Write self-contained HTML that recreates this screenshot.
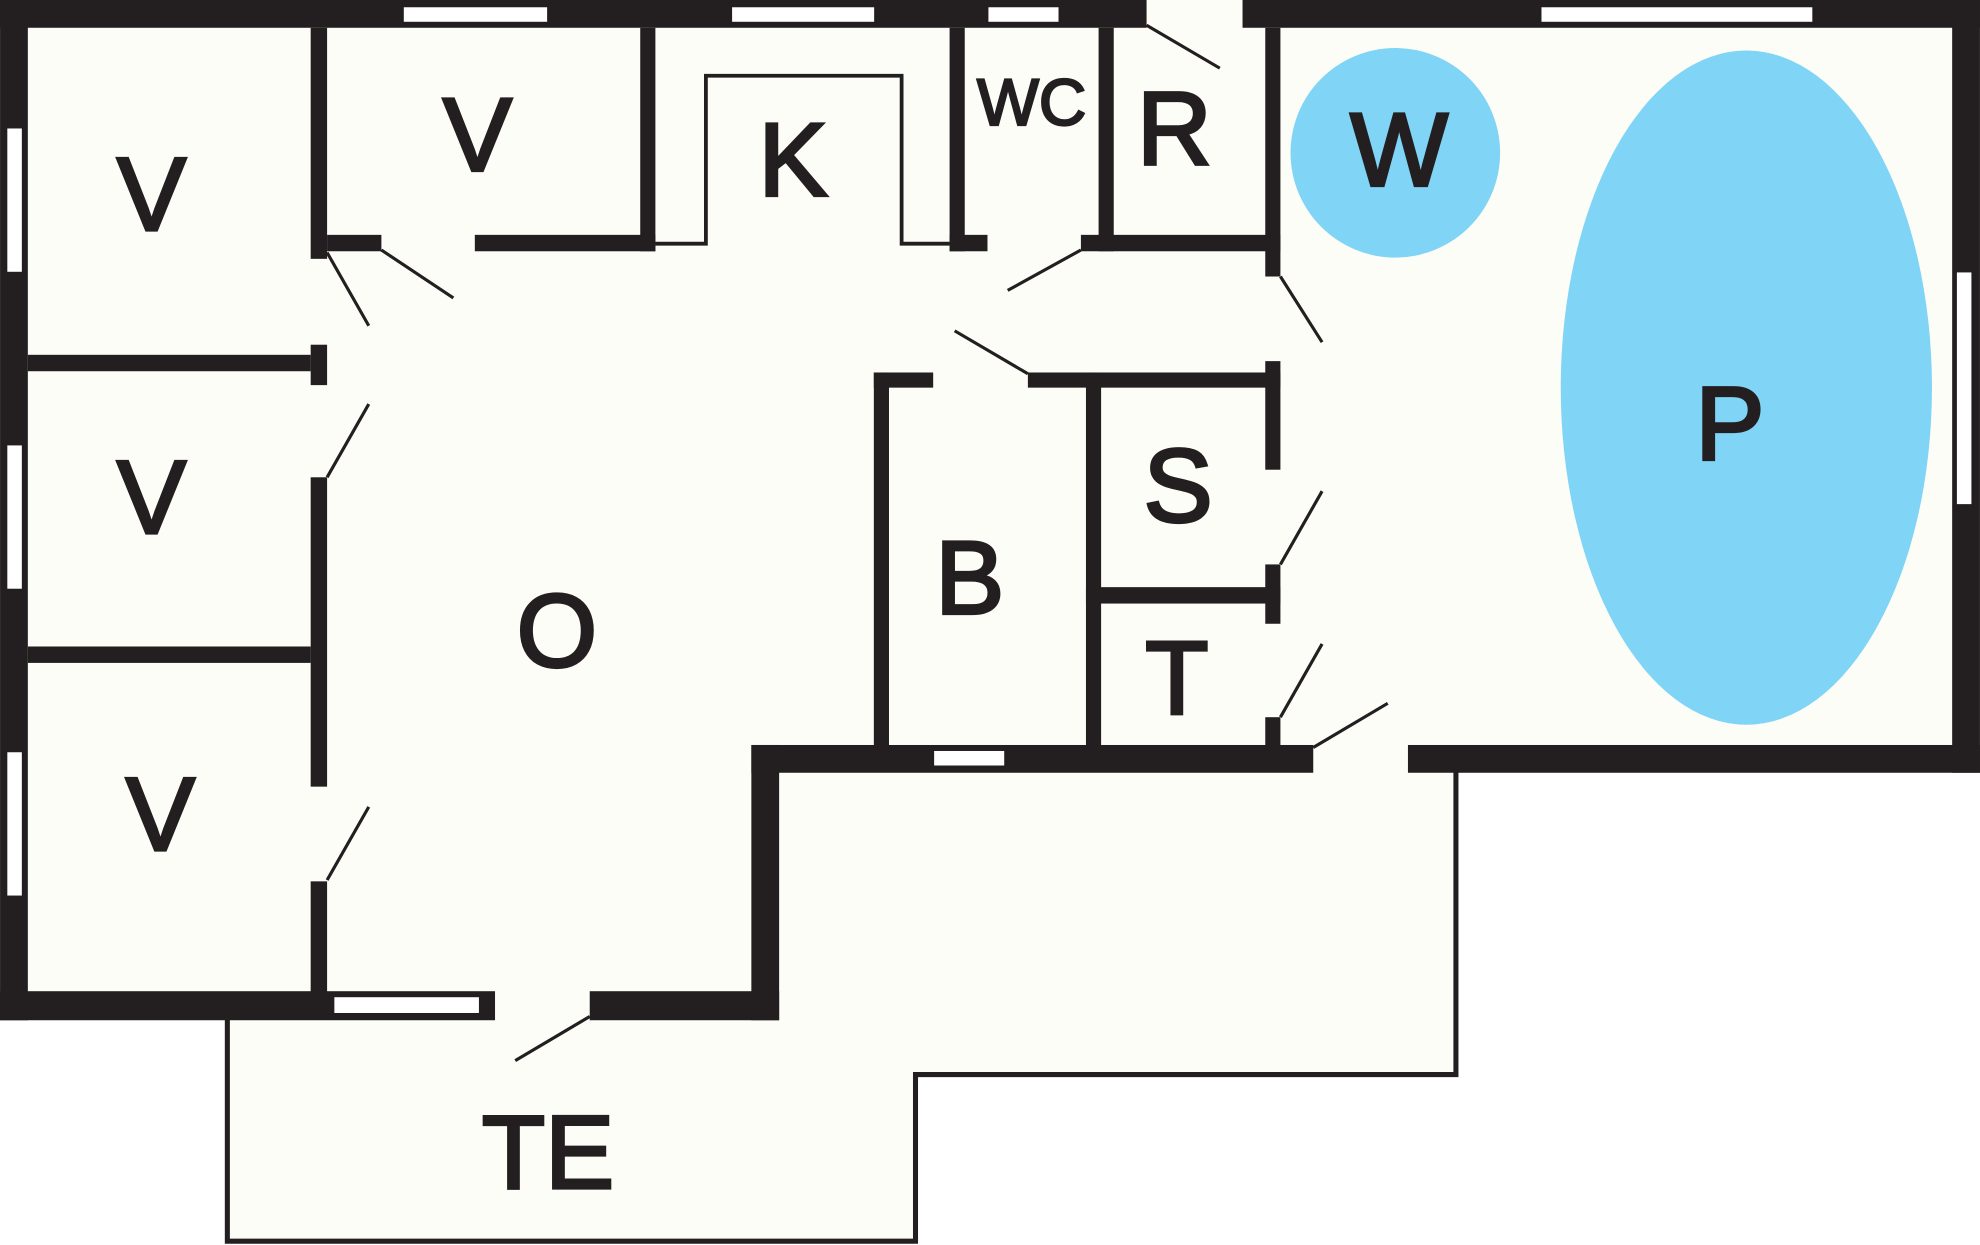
<!DOCTYPE html>
<html><head><meta charset="utf-8"><style>
html,body{margin:0;padding:0;background:#fff}
svg{display:block}
text{font-family:"Liberation Sans",Arial,sans-serif;fill:#231f20;stroke:#231f20;stroke-width:2.5;text-anchor:middle}
</style></head><body>
<svg width="1980" height="1245" viewBox="0 0 1568 986" xmlns="http://www.w3.org/2000/svg">
<g fill="#fdfdf8">
<polygon points="0,0 1568,0 1568,612 1153,612 1153,851 725,851 725,983 180,983 180,808 0,808"/>
</g>
<circle cx="1105" cy="121" r="83" fill="#80d4f6"/>
<ellipse cx="1383" cy="307" rx="147" ry="267" fill="#80d4f6"/>
<polyline points="180,806 180,983 725,983 725,851 1153,851 1153,610" fill="none" stroke="#231f20" stroke-width="4"/>
<polyline points="519,193 559,193 559,60 714,60 714,193 752,193" fill="none" stroke="#231f20" stroke-width="3"/>
<g fill="#231f20">
<rect x="0" y="0" width="908" height="22"/>
<rect x="984" y="0" width="584" height="22"/>
<rect x="0" y="0" width="22" height="808"/>
<rect x="1546" y="0" width="22" height="612"/>
<rect x="0" y="785" width="392" height="23"/>
<rect x="467" y="785" width="150" height="23"/>
<rect x="595" y="590" width="22" height="218"/>
<rect x="595" y="590" width="445" height="22"/>
<rect x="1115" y="590" width="453" height="22"/>
<rect x="246" y="22" width="13" height="183"/>
<rect x="246" y="273" width="13" height="32"/>
<rect x="246" y="378" width="13" height="245"/>
<rect x="246" y="698" width="13" height="100"/>
<rect x="22" y="281" width="224" height="13"/>
<rect x="22" y="512" width="224" height="13"/>
<rect x="259" y="186" width="43" height="13"/>
<rect x="376" y="186" width="143" height="13"/>
<rect x="507" y="22" width="12" height="177"/>
<rect x="752" y="22" width="12" height="177"/>
<rect x="752" y="186" width="30" height="13"/>
<rect x="856" y="186" width="158" height="13"/>
<rect x="870" y="22" width="12" height="177"/>
<rect x="1002" y="22" width="12" height="197"/>
<rect x="1002" y="286" width="12" height="86"/>
<rect x="1002" y="447" width="12" height="47"/>
<rect x="1002" y="568" width="12" height="30"/>
<rect x="692" y="295" width="47" height="12"/>
<rect x="814" y="295" width="200" height="12"/>
<rect x="692" y="295" width="12" height="305"/>
<rect x="860" y="295" width="12" height="305"/>
<rect x="860" y="465" width="154" height="13"/>
</g>
<g fill="#fff" stroke="#231f20" stroke-width="1.5">
<rect x="319" y="5" width="115" height="13"/>
<rect x="579" y="5" width="114" height="13"/>
<rect x="782" y="5" width="57" height="13"/>
<rect x="1220" y="5" width="216" height="13"/>
<rect x="5" y="101" width="13" height="115"/>
<rect x="5" y="352" width="13" height="115"/>
<rect x="5" y="595" width="13" height="115"/>
<rect x="1549" y="215" width="13" height="185"/>
<rect x="739" y="594" width="57" height="13"/>
<rect x="264" y="789" width="116" height="14"/>
</g>
<g stroke="#231f20" stroke-width="2.5">
<line x1="259" y1="200" x2="292" y2="258"/>
<line x1="302" y1="198" x2="359" y2="236"/>
<line x1="259" y1="378" x2="292" y2="320"/>
<line x1="259" y1="697" x2="292" y2="639"/>
<line x1="856" y1="198" x2="798" y2="230"/>
<line x1="756" y1="262" x2="814" y2="296"/>
<line x1="908" y1="20" x2="966" y2="54"/>
<line x1="1014" y1="219" x2="1047" y2="271"/>
<line x1="1014" y1="447" x2="1047" y2="389"/>
<line x1="1014" y1="568" x2="1047" y2="510"/>
<line x1="1040" y1="592" x2="1099" y2="557"/>
<line x1="467" y1="805" x2="408" y2="840"/>
</g>
<g font-size="82">
<text x="120" y="182">V</text>
<text x="378" y="135">V</text>
<text x="628" y="155">K</text>
<text x="930" y="130">R</text>
<text x="1108" y="147">W</text>
<text x="1370" y="364">P</text>
<text x="933" y="413">S</text>
<text x="768" y="486">B</text>
<text x="932" y="565">T</text>
<text x="441" y="528">O</text>
<text x="120" y="422">V</text>
<text x="127" y="673">V</text>
<text x="434" y="941">TE</text>
</g>
<text x="817" y="99" font-size="52" style="stroke-width:1.8">WC</text>
</svg>
</body></html>
